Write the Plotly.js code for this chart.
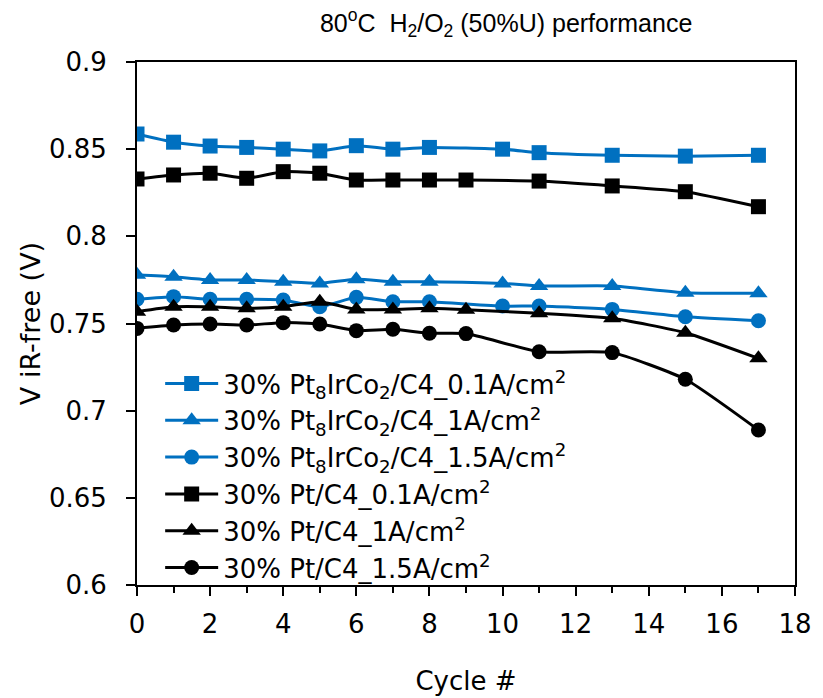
<!DOCTYPE html>
<html>
<head>
<meta charset="utf-8">
<script src="https://cdn.plot.ly/plotly-3.0.1.min.js"></script>
<style>html,body{margin:0;padding:0;background:#fff;}#chart{width:823px;height:698px;}</style>
</head>
<body>
<div id="chart"></div>
<script>
// Cycle numbers
const cyclesPtIrCo = [0, 1, 2, 3, 4, 5, 6, 7, 8, 10, 11, 13, 15, 17];
const cyclesPt = [0, 1, 2, 3, 4, 5, 6, 7, 8, 9, 11, 13, 15, 17];

// 30% Pt8IrCo2/C4
const ptIrCo_01A = [0.8587, 0.854, 0.8518, 0.851, 0.850, 0.849, 0.852, 0.850, 0.851, 0.850, 0.848, 0.8465, 0.846, 0.8465];
const ptIrCo_1A = [0.778, 0.7768, 0.775, 0.775, 0.774, 0.773, 0.7754, 0.774, 0.774, 0.773, 0.7715, 0.7715, 0.7677, 0.7673];
const ptIrCo_15A = [0.7639, 0.7654, 0.7639, 0.7639, 0.7635, 0.7596, 0.765, 0.7625, 0.7625, 0.760, 0.760, 0.7581, 0.7539, 0.7516];

// 30% Pt/C4
const pt_01A = [0.8329, 0.8352, 0.8362, 0.8333, 0.8371, 0.8362, 0.8323, 0.8323, 0.8323, 0.8323, 0.8317, 0.8289, 0.8256, 0.817];
const pt_1A = [0.7568, 0.7596, 0.7596, 0.7587, 0.7596, 0.7625, 0.7581, 0.7581, 0.7587, 0.7579, 0.7559, 0.753, 0.7447, 0.730];
const pt_15A = [0.7472, 0.7491, 0.7497, 0.7491, 0.7505, 0.7497, 0.7459, 0.7467, 0.7444, 0.7442, 0.7338, 0.7333, 0.718, 0.6889];

const seriesNames = [
  '30% Pt<sub>8</sub>IrCo<sub>2</sub>/C4_0.1A/cm<sup>2</sup>',
  '30% Pt<sub>8</sub>IrCo<sub>2</sub>/C4_1A/cm<sup>2</sup>',
  '30% Pt<sub>8</sub>IrCo<sub>2</sub>/C4_1.5A/cm<sup>2</sup>',
  '30% Pt/C4_0.1A/cm<sup>2</sup>',
  '30% Pt/C4_1A/cm<sup>2</sup>',
  '30% Pt/C4_1.5A/cm<sup>2</sup>'
];

const BLUE = '#0070C0';
const BLACK = '#000000';
const FONT = 'DejaVu Sans, Liberation Sans, Arial, sans-serif';

function tr(x, y, name, color, symbol, size) {
  return {
    x: x, y: y, name: name, type: 'scatter', mode: 'lines+markers',
    line: {color: color, width: 3, shape: 'spline', smoothing: 0.5},
    marker: {color: color, symbol: symbol, size: size}
  };
}

const data = [
  tr(cyclesPtIrCo, ptIrCo_01A, seriesNames[0], BLUE, 'square', 15),
  tr(cyclesPtIrCo, ptIrCo_1A, seriesNames[1], BLUE, 'triangle-up', 16),
  tr(cyclesPtIrCo, ptIrCo_15A, seriesNames[2], BLUE, 'circle', 15),
  tr(cyclesPt, pt_01A, seriesNames[3], BLACK, 'square', 15),
  tr(cyclesPt, pt_1A, seriesNames[4], BLACK, 'triangle-up', 16),
  tr(cyclesPt, pt_15A, seriesNames[5], BLACK, 'circle', 15)
];

const layout = {
  width: 823, height: 698,
  margin: {l: 137, r: 28, t: 62, b: 113},
  paper_bgcolor: '#fff', plot_bgcolor: '#fff',
  font: {family: FONT, color: '#000', size: 26},
  showlegend: true,
  title: {
    text: '80<sup>o</sup>C  H<sub>2</sub>/O<sub>2</sub> (50%U) performance',
    font: {family: 'Liberation Sans, Arial, sans-serif', size: 25, color: '#000'},
    xref: 'paper', x: 0.561, xanchor: 'center',
    yref: 'container', y: 0.967, yanchor: 'middle'
  },
  xaxis: {
    range: [0, 18], dtick: 2, tick0: 0,
    ticks: 'outside', ticklen: 9, tickwidth: 2, tickcolor: '#000',
    minor: {dtick: 1, ticks: 'outside', ticklen: 6, tickwidth: 2, tickcolor: '#000'},
    showline: true, linecolor: '#000', linewidth: 2, mirror: true,
    showgrid: false, zeroline: false,
    tickfont: {size: 26, family: FONT},
    ticklabelstandoff: 6,
    title: {text: 'Cycle #', font: {size: 26, family: FONT}, standoff: 34}
  },
  yaxis: {
    range: [0.6, 0.9], dtick: 0.05, tick0: 0.6,
    ticks: 'outside', ticklen: 9, tickwidth: 2, tickcolor: '#000',
    showline: true, linecolor: '#000', linewidth: 2, mirror: true,
    showgrid: false, zeroline: false,
    tickfont: {size: 26, family: FONT},
    ticklabelstandoff: 14,
    title: {text: 'V iR-free (V)', font: {size: 27, family: FONT}, standoff: 0}
  },
  legend: {
    x: 0.0352, xanchor: 'left', y: 0.43, yanchor: 'top',
    bgcolor: 'rgba(0,0,0,0)', borderwidth: 0,
    font: {size: 26, family: FONT},
    tracegroupgap: 0, itemwidth: 53
  }
};

Plotly.newPlot('chart', data, layout, {displayModeBar: false});
</script>
</body>
</html>
